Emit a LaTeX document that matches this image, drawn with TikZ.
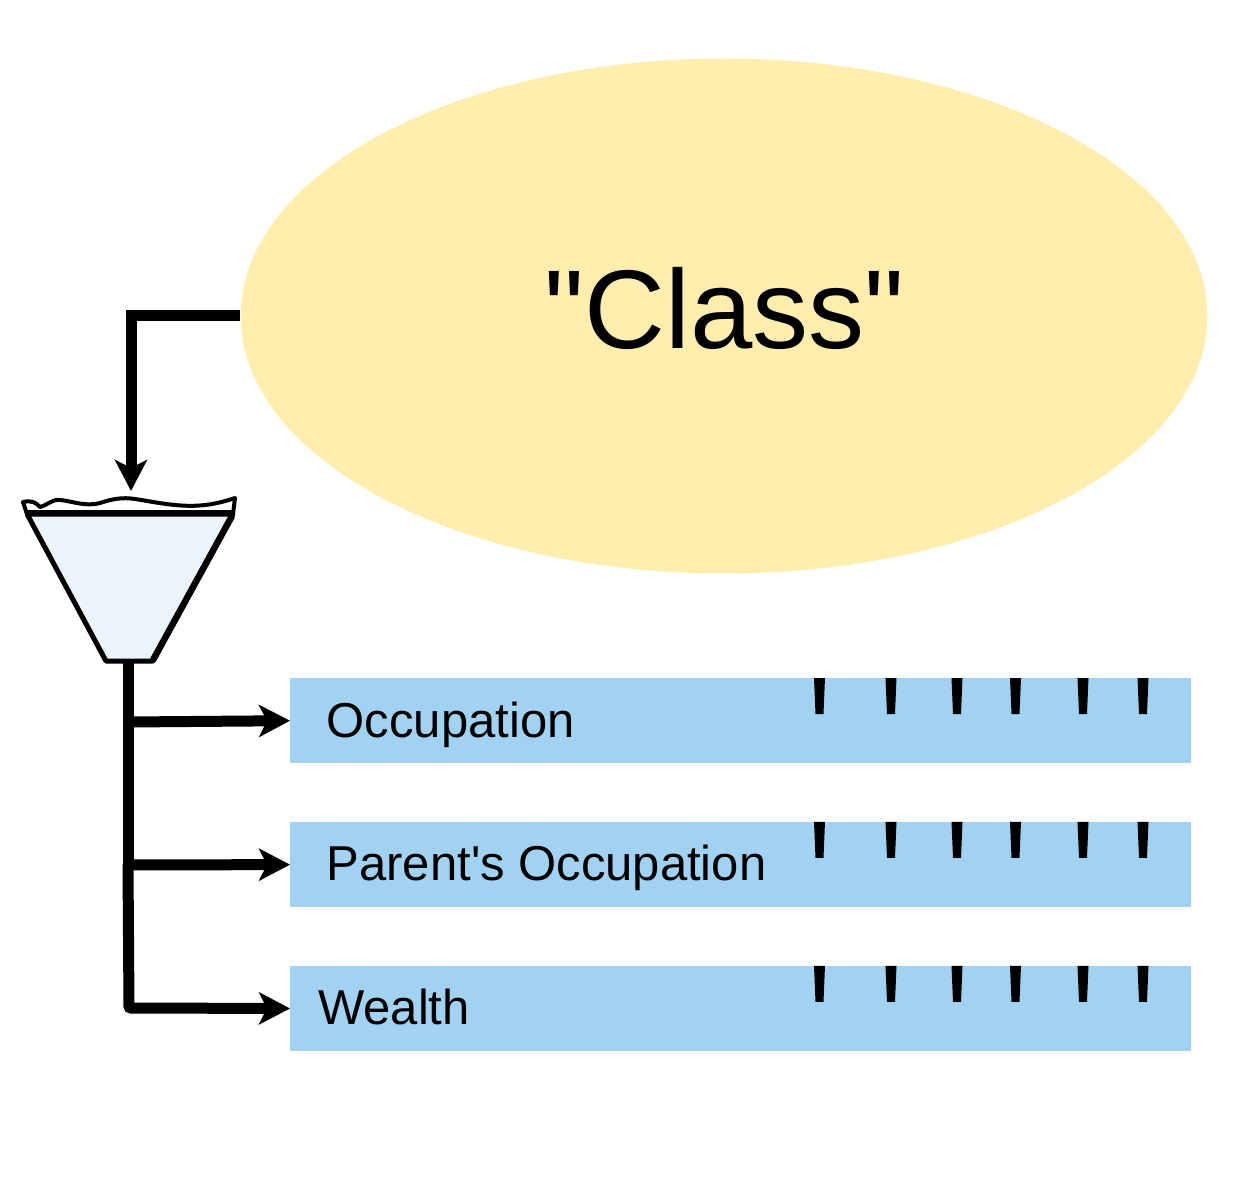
\documentclass[tikz,border=0pt]{standalone}
\usepackage{xcolor}
\usepackage{fontspec}
\newfontfamily\labelfont{Liberation Sans}
\usetikzlibrary{
  arrows.meta,
  shapes.geometric,
  positioning
}
\definecolor{clsYellow}{HTML}{FFEEAD}
\definecolor{clsBlue}{HTML}{A1D2F1}
\definecolor{clsFunnel}{HTML}{EBF3FB}
\tikzset{
  classnode/.style={
    ellipse, fill=clsYellow, inner sep=0pt, minimum width=967pt, minimum height=515pt
  },
  classtext/.style={font=\labelfont\fontsize{112}{120}\selectfont, inner sep=0pt},
  factor/.style={
    fill=clsBlue, inner sep=0pt, minimum width=900.5pt, minimum height=85pt
  },
  factortext/.style={font=\labelfont\fontsize{49}{56}\selectfont, inner sep=0pt, anchor=west},
  flow/.style={-{Stealth[length=31pt, width=32pt, inset=8pt]}, line width=11pt, black},
  funnelline/.style={line width=5pt, line join=round, black},
  tick/.style={fill=black}
}

\begin{document}
\begin{tikzpicture}[x=1pt, y=-1pt, node distance=58.5pt]
  \useasboundingbox (0,0) rectangle (1240,1182);
  \node[classnode] (class) at (724,316) {};
  \node[classtext] (classlabel) at (724.5,308) {"Class"};
  \node[factor] (occ) at (740.5,720.7) {};
  \node[factor, below=of occ] (par) {};
  \node[factor, below=of par] (wealth) {};
  \node[factortext] (occtext) at (326.5,724.5) {Occupation};
  \node[factortext] (partext) at (326.5,867.5) {Parent's Occupation};
  \node[factortext] (weatext) at (318,1007) {Wealth};
  % ticks on every bar
  \foreach \bar in {occ,par,wealth} {
    \foreach \tx in {819.5,891,957,1015.5,1083,1143} {
      \fill[tick] (\bar.north -| \tx,0) ++(-5.5,0) -- ++(11,0) -- ++(-1.5,36) -- ++(-8,0) -- cycle;
    }
  }
  % funnel
  \coordinate (funneltop) at (131,491);
  \coordinate (funnelneck) at (128,661);
  \draw[line width=4pt, line join=round, fill=white] (27,514) -- (23,502)
    .. controls (33,500) and (36,503) .. (40,507)
    .. controls (48,505) and (52,499) .. (60,500)
    .. controls (72,501) and (85,507) .. (100,503)
    .. controls (112,499) and (122,497) .. (135,499)
    .. controls (155,502) and (180,508) .. (205,505)
    .. controls (215,504) and (226,501) .. (235,498) -- (233,514) -- cycle;
  \draw[funnelline, fill=clsFunnel] (27,514) -- (233,514) -- (153,661) -- (106,661) -- cycle;
  \draw[line width=6pt] (27,513) -- (233,513);
  \draw[line width=6.5pt] (232,516) -- (153,660);
  % connectors
  \draw[flow] (class.west) -| (funneltop);
  \draw[line width=11pt] (funnelneck) -- (128,864);
  \draw[line width=11pt, rounded corners=2pt, -{Stealth[length=31pt, width=32pt, inset=8pt]}] (128,864) -- (129,1008) -- (wealth.west);
  \draw[flow] (128,722) -- (occ.west);
  \draw[flow] (128,865) -- (par.west);
\end{tikzpicture}
\end{document}
